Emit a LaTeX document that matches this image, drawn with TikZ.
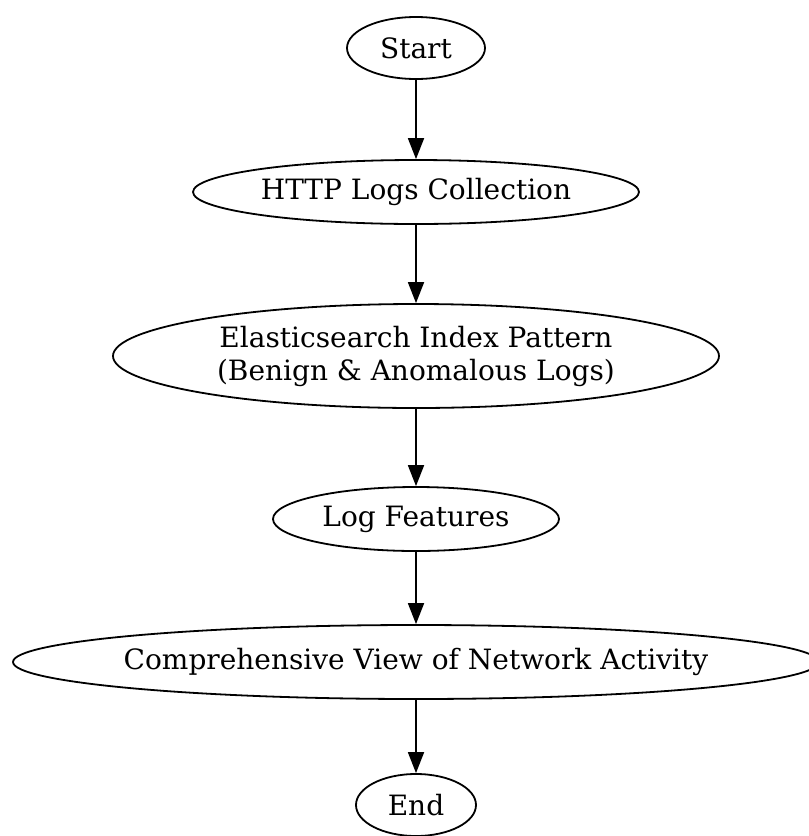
\documentclass[tikz,border=0pt]{standalone}
\usepackage{fontspec}
\setmainfont{DejaVu Serif}
\usetikzlibrary{shapes.geometric,arrows.meta}

\newcommand\flowtextstyle{\fontsize{14}{16.5}\selectfont}
\newcommand\flowlinewidth{0.9pt}

\tikzset{
  flowstep/.style={draw, ellipse, line width=\flowlinewidth, inner sep=0pt,
    align=center, font=\flowtextstyle},
  flowarrow/.style={line width=\flowlinewidth, -{Triangle[length=10.5pt, width=8pt]}}
}

\begin{document}
\begin{tikzpicture}[x=0.5pt, y=-0.5pt]
    \useasboundingbox (0, 0) rectangle (809, 836) ;
    % the steps, top to bottom
    \node[flowstep, minimum width=69pt, minimum height=31pt] (start) at (416, 48) {Start} ;
    \node[flowstep, minimum width=223pt, minimum height=32pt] (http) at (416, 192) {HTTP Logs Collection} ;
    \node[flowstep, minimum width=303pt, minimum height=52pt] (index) at (416, 356)
      {Elasticsearch Index Pattern\\(Benign \& Anomalous Logs)} ;
    \node[flowstep, minimum width=143pt, minimum height=32pt] (features) at (416, 519) {Log Features} ;
    \node[flowstep, inner xsep=-5pt, minimum width=403pt, minimum height=37pt] (view) at (416, 662)
      {Comprehensive View of Network Activity} ;
    \node[flowstep, minimum width=60pt, minimum height=31pt] (end) at (416, 805) {End} ;
    % arrows between them
    \draw[flowarrow] (start) -- (http) ;
    \draw[flowarrow] (http) -- (index) ;
    \draw[flowarrow] (index) -- (features) ;
    \draw[flowarrow] (features) -- (view) ;
    \draw[flowarrow] (view) -- (end) ;
  \end{tikzpicture}
\end{document}
